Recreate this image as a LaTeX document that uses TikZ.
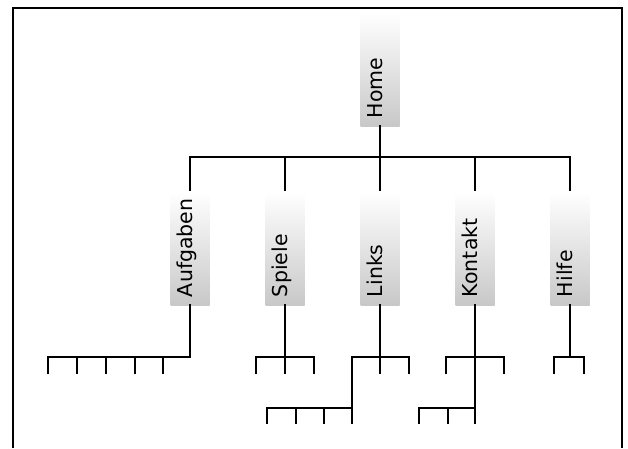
\documentclass[tikz,border=0pt]{standalone}
\usepackage{fontspec}
\setmainfont{DejaVu Sans}
\definecolor{boxgray}{HTML}{C8C8C8}
% page label: text starts at the lower end of the box
\newcommand\pglabel[1]{\makebox[97pt][l]{#1}}
\tikzset{
  pagebox/.style={rotate=90, inner xsep=8pt, inner ysep=0pt,
    minimum height=39pt, text height=0.75em, text depth=0.22em,
    top color=white, bottom color=boxgray, draw=none,
    font=\fontsize{20.5}{20.5}\selectfont},
  link/.style={line width=1.5pt, line cap=rect},
  frame/.style={line width=2pt}
}
\begin{document}
\begin{tikzpicture}[x=1pt,y=-1pt]
\useasboundingbox (0,0) rectangle (628,448);
\draw[frame] (13,448) -- (13,8) -- (622,8) -- (622,448);

% pages
\node[pagebox] (home)    at (380,69.5)  {\pglabel{Home}};
\node[pagebox] (aufg)    at (190,248.5) {\pglabel{Aufgaben}};
\node[pagebox] (spiele)  at (285,248.5) {\pglabel{Spiele}};
\node[pagebox] (links)   at (380,248.5) {\pglabel{Links}};
\node[pagebox] (kontakt) at (475,248.5) {\pglabel{Kontakt}};
\node[pagebox] (hilfe)   at (570,248.5) {\pglabel{Hilfe}};

% levels of the connectors
\coordinate (bus) at (0,157);
\coordinate (top) at (0,190);
\coordinate (lv1) at (0,357);
\coordinate (lv2) at (0,408);

% first level
\draw[link] (home.west) -- (home.west |- bus);
\draw[link] (aufg.center |- top) |- (hilfe.center |- bus) -- (hilfe.center |- top);
\foreach \n in {spiele,links,kontakt}
  \draw[link] (\n.center |- top) -- (\n.center |- bus);

% Aufgaben
\foreach \i/\x in {1/48,2/77,3/106,4/135,5/163}
  \coordinate (a\i) at (\x,373);
\draw[link] (aufg.west) |- (a1 |- lv1) -- (a1);
\foreach \i in {2,...,5} \draw[link] (a\i |- lv1) -- (a\i);

% Spiele
\foreach \i/\x in {1/256,2/285,3/314}
  \coordinate (s\i) at (\x,373);
\draw[link] (spiele.west) -- (s2);
\draw[link] (s1) |- (s3 |- lv1) -- (s3);

% Links
\foreach \i/\x in {1/380,2/409}
  \coordinate (l\i) at (\x,373);
\coordinate (lj) at (352,357);
\draw[link] (links.west) -- (l1);
\draw[link] (lj) -- (l2 |- lv1) -- (l2);
\foreach \i/\x in {1/267,2/296,3/324,4/352}
  \coordinate (ll\i) at (\x,423);
\draw[link] (lj) -- (ll4);
\draw[link] (ll1) |- (ll4 |- lv2);
\foreach \i in {2,3} \draw[link] (ll\i |- lv2) -- (ll\i);

% Kontakt
\foreach \i/\x in {1/446,2/504}
  \coordinate (k\i) at (\x,373);
\draw[link] (k1) |- (k2 |- lv1) -- (k2);
\foreach \i/\x in {1/419,2/448,3/475}
  \coordinate (kk\i) at (\x,423);
\draw[link] (kontakt.west) -- (kk3);
\draw[link] (kk1) |- (kk3 |- lv2);
\draw[link] (kk2 |- lv2) -- (kk2);

% Hilfe
\coordinate (h1) at (554,373);
\coordinate (h2) at (584,373);
\draw[link] (hilfe.west) -- (hilfe.west |- lv1);
\draw[link] (h1) |- (h2 |- lv1) -- (h2);
\end{tikzpicture}
\end{document}
